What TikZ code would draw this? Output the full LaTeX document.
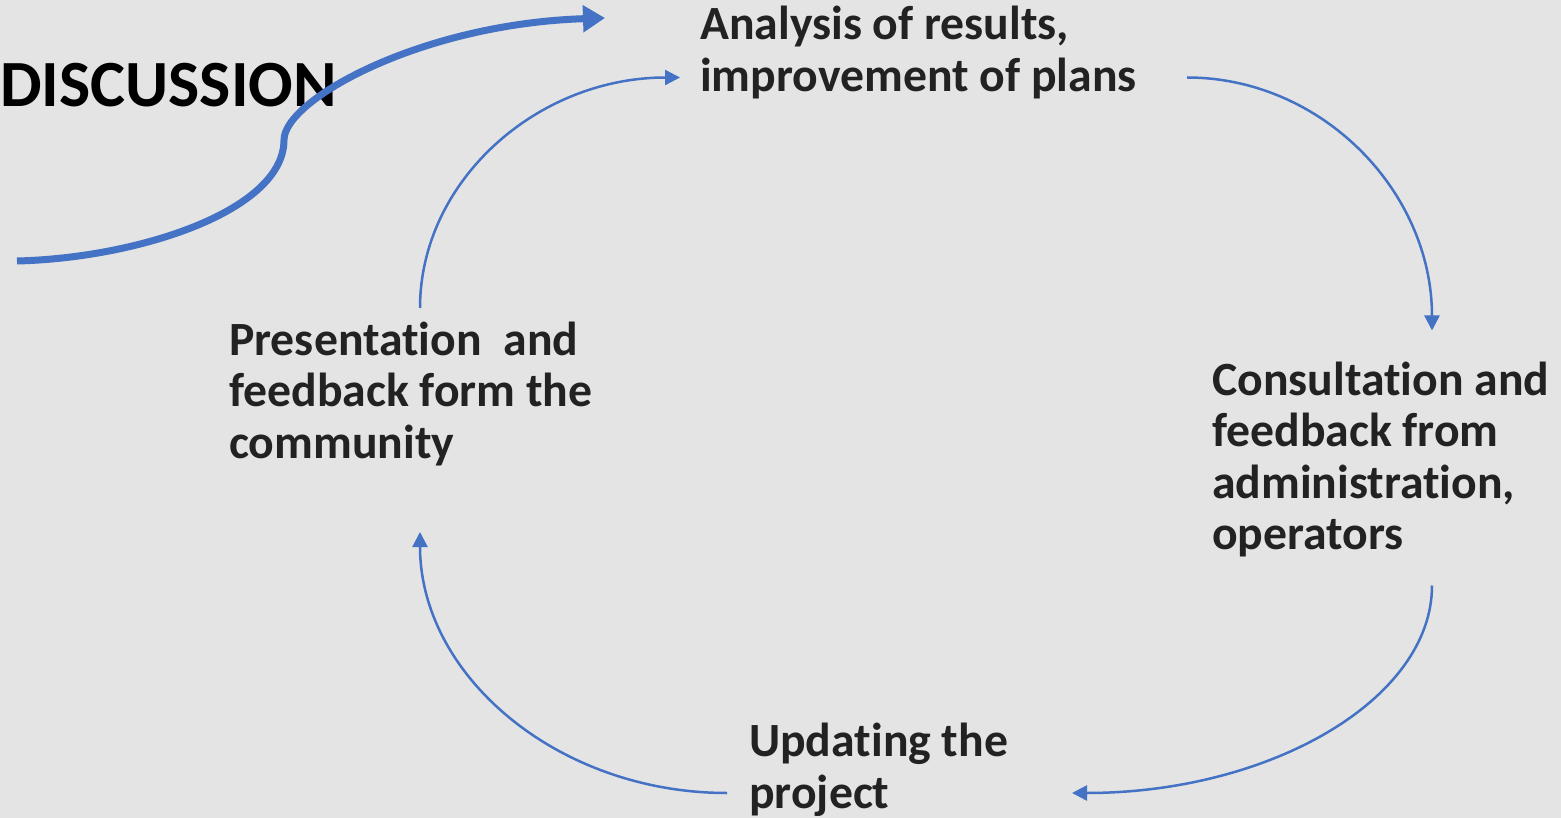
\documentclass[tikz,border=0pt]{standalone}
\usepackage{fontspec}
\setmainfont{Carlito}[RawFeature=-liga]
\usetikzlibrary{arrows.meta}
\definecolor{bgcol}{HTML}{E4E4E4}
\definecolor{cycblue}{HTML}{4472C4}
\definecolor{txtcol}{HTML}{222222}
\begin{document}
\begin{tikzpicture}[x=1pt,y=-1pt,
    stage/.style = {anchor=base west,inner sep=0pt,align=left,text=txtcol,
                    font=\bfseries\fontsize{47.7}{51.5}\selectfont},
    cyc/.style   = {draw=cycblue,line width=2.5pt,-{Triangle[length=15pt,width=15pt]}},
    bigarr/.style = {draw=cycblue,line width=7pt,-{Triangle[length=22pt,width=26pt]}}]
\fill[bgcol] (0,0) rectangle (1561,818);
\useasboundingbox (0,0) rectangle (1561,818);
\node[stage] (analysis) at (700,91.5)  {Analysis of results,\\improvement of plans};
\node[stage] (consult)  at (1212,549.5) {Consultation and\\feedback from\\administration,\\operators};
\node[stage] (update)   at (749,808) {Updating the\\project};
\node[stage] (present)  at (229,458) {Presentation\ \ and\\feedback form the\\community};
\node[anchor=base west,inner sep=0pt,font=\bfseries\fontsize{66}{70}\selectfont] (disc) at (0,107) {DISCUSSION};
\coordinate (dstart) at (17,261);
\coordinate (dend)   at (605,18);
\draw[bigarr] (dstart) .. controls +(123,-3) and (284,210) .. (284,140)
                       .. controls (284,100) and (420,24) .. (dend);
\draw[cyc] ([shift={(487,-14)}]analysis.base west) .. controls +(135,0) and +(0,-139) .. ([shift={(220,-219)}]consult.base west);
\draw[cyc] ([shift={(220,36)}]consult.base west) .. controls +(0,114) and +(198,0) .. ([shift={(323,-15)}]update.base west);
\draw[cyc] ([shift={(-22,-15)}]update.base west) .. controls +(-169,0) and +(0,144) .. ([shift={(191,74)}]present.base west);
\draw[cyc] ([shift={(191,-150)}]present.base west) .. controls +(0,-127) and +(-143,0) .. ([shift={(-20,-14)}]analysis.base west);
\end{tikzpicture}
\end{document}
